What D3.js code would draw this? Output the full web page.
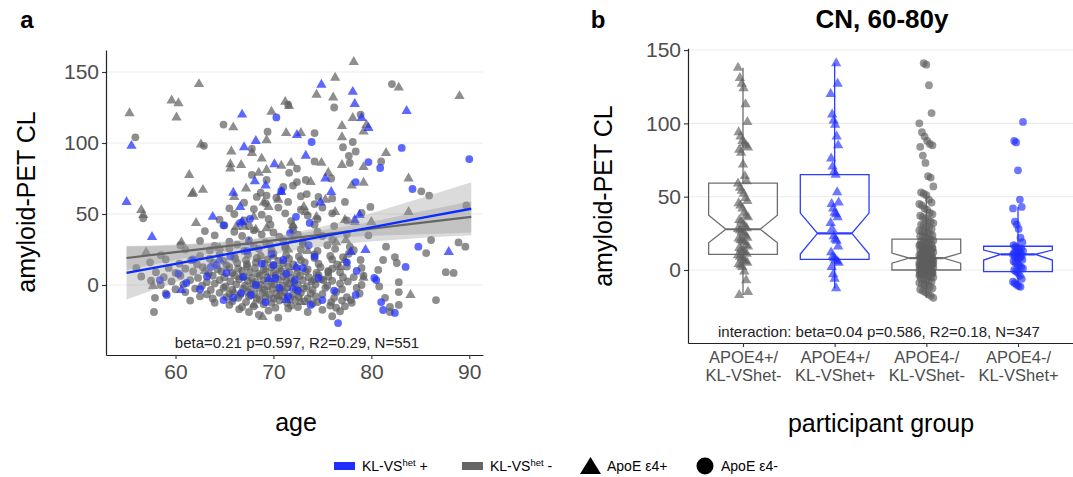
<!DOCTYPE html>
<html><head><meta charset="utf-8">
<script src="https://cdn.jsdelivr.net/npm/d3@7"></script>
<style>body{margin:0;background:#fff;} svg{display:block;font-family:"Liberation Sans",Arial,sans-serif;}</style>
</head><body><svg id="c" width="1073" height="477"></svg>
<script>
// ---------------- DATA: panel a (age, amyloid-PET CL) ----------------
const yTicks = [0, 50, 100, 150];
const xTicksA = [60, 70, 80, 90];

// KL-VShet- / ApoE e4+  (grey triangles)
const greyTriA = [[55.3,121],[62.4,141.5],[59.6,130],[60.3,128],[60.1,118],[78.2,157],[76.3,146],[74.4,134],[76.1,132],[82.8,139],[89.0,133],[71.2,129],[71.6,126],[69.8,122],[65.9,111],[77.0,112],[78.1,117.6],[79.5,112.7],[79.2,108],[62.6,99],[71.3,107],[72.8,107],[77.0,104],[65.7,94],[67.8,93],[81.5,93],[69.3,102],[65.6,85],[66.7,84.5],[65.6,82],[68.8,89],[70.8,84],[71.8,86],[74.9,86],[77.0,84.5],[79.2,83],[61.4,77.5],[68.5,79],[69.3,81],[73.8,72.5],[75.6,79],[83.8,75],[62.8,67],[61.8,65],[67.2,68],[79.2,72],
[56.5,52.8],[56.7,49.3],[61.7,64],[62.1,43.7],[60.6,30],[57.0,23],[57.7,-0.7],[66.2,41],[67,41],[68.2,39],[69.3,40],[72.0,42],[73.1,55],[73.3,51.4],[74.4,48],[75.3,60],[76.3,51.4],[77.3,45.8],[78.3,44.4],[78.0,70],[80.0,44.4],[83.8,51.4],[84.0,-7],[68.0,-14],[68.9,-22.5],[66.6,5.6],[76.8,12.7],[77.3,17.6],[79.2,5],[72.8,-12],[74.1,3.5],[76.4,30],[77.4,31.7],[69.5,55],[70.5,60],[66,62],[64.5,26],[70,20],[71.5,25],[63,10],[66,-5],[70.5,-8],[72,32],[73.5,24],[68,48],[69,58]];

// KL-VShet+ / ApoE e4+  (blue triangles)
const blueTriA = [[55.5,98],[66.8,120],[74.9,141],[78.1,136],[78.3,127.5],[83.6,122.5],[79.0,117.6],[79.7,110.6],[68.2,101.4],[67.0,97],[72.4,105.6],[73.3,91],[70.1,85],[68.1,73],[69.2,70],[75.3,75],[75.9,65.5],[65.9,65],[70.8,65.5],[55.0,58.5],[57.6,33.8],[63.8,48],[66.6,55],[66.8,44.4],[78.3,45.8],[78.8,49.3],[77.9,23.2],[79.4,24.6],[87.9,23.2],[60.6,-3.5],[71.3,-10.6],[72.3,12.7],[67.5,30],[74.8,58],[64.5,18],[69.5,4],[72,-2]];

// KL-VShet- / ApoE e4-  (grey circles)
const greyCircA = [[55.9,104],[64.9,113],[76.2,125],[82.1,141.5],[71.5,127],[78.9,120],[69.4,108],[74.2,107],[62.9,98],[78.1,100.7],[77.1,97],[78.4,94],[77.7,91],[67.8,96],[74.2,87],[77.8,86],[81.0,87],[72.4,82],[71.6,79],[67.8,77.5],[69.3,74],[72.4,72.5],[72.0,70],[73.3,74],[75.9,75],[71.0,69],[68.7,65],[69.3,63],[73.4,64],[74.6,62],[85.1,66],[85.9,63],[56.7,47],
[89.7,56],[89.6,27],[88.9,30],[88.4,8.5],[87.6,9],[86.6,-10.6],[86.1,31.7],[85.6,22.5],[82.8,-14],[81.9,-15.5],[81.9,-19],[81.4,-9],[81.5,27],[81.2,17.6],[80.7,10.6],[82.8,-5],[82.8,2],[82.4,19.7],[82.6,15.5],[79.9,55],[79.7,35],[79.0,50.7],[78.9,17.6],[79.0,12],[78.2,5.6],[78.5,-2],[77.9,-10.6],[77.1,19.7],[75.6,9],[75.1,3.5],[75.9,-12],[76.4,-16],[57.9,-9],[57.8,-19],[56.0,12],[57.4,16],
[68.5,-21],[70.5,-23],[76,-22],[66.5,-17],[67.5,-19],[69.5,-18],[71.5,-16.5],[73.5,-19],[75,-17.5],[76.8,-18.5],
[65.5,-14],[66.8,-15.5],[68,-15],[69,-13.5],[70.2,-16],[71.8,-14.5],[72.5,-15.5],[74,-13],[75.8,-14.5],[77.3,-15],
[61.5,-11],[64,-12.5],[65.8,-11.5],[67.2,-12],[68.6,-10.5],[69.8,-12.5],[70.6,-11],[71.4,-12.5],[72.2,-10.5],[73.2,-11.5],[74.5,-12],[77,-11],[78,-12.5],
[62.5,-8],[63.8,-9.5],[65.2,-8.5],[66.4,-9],[67.5,-8],[68.3,-9.5],[69.2,-8.5],[70,-9.5],[70.9,-8],[71.7,-9],[72.6,-8.5],[73.5,-9.5],[74.3,-8],[76.2,-9],[77.5,-8.5],
[59,-6],[61,-5],[63.2,-6.5],[64.5,-5.5],[65.5,-6],[66.6,-7],[67.4,-5],[68.1,-6.5],[68.9,-5.5],[69.6,-7],[70.3,-6],[71.1,-5],[72,-6.5],[72.8,-5.5],[73.8,-6],[75,-6.5],[76.4,-5],[78.8,-6],
[60,-3],[62,-2.5],[63.6,-3.5],[64.9,-2],[65.8,-3.5],[66.9,-2.5],[67.7,-3],[68.5,-2],[69.1,-3.5],[69.9,-2.5],[70.7,-3.5],[71.4,-2],[72.3,-3],[73.1,-2.5],[74,-3.5],[75.3,-2],[77,-3],
[58.5,0],[60.8,0.5],[62.7,-0.5],[64,1],[65.1,-1],[66.2,0.5],[67.1,-0.5],[67.9,1],[68.7,0],[69.4,-1],[70.1,0.5],[70.9,-0.5],[71.6,1],[72.5,0],[73.4,-1],[74.3,0.5],[75.5,-0.5],[76.8,1],[79,0],[80.8,-1],
[57.5,3],[59.6,2.5],[61.5,3.5],[63.2,2],[64.5,3.5],[65.6,2.5],[66.5,4],[67.4,3],[68.2,2],[69,3.5],[69.8,2.5],[70.5,4],[71.3,3],[72.1,2],[73,3.5],[73.9,2.5],[74.9,4],[76,3],[77.6,2.5],
[56.5,6],[58.8,5.5],[60.5,6.5],[62.3,5],[63.8,6.5],[65,5.5],[66,7],[67,6],[67.8,5],[68.6,6.5],[69.4,5.5],[70.2,7],[71,6],[71.8,5],[72.7,6.5],[73.6,5.5],[74.6,7],[75.6,6],[77.1,5.5],[79.2,6.5],
[58,9],[60,8.5],[61.8,9.5],[63.4,8],[64.7,9.5],[65.8,8.5],[66.8,10],[67.6,9],[68.4,8],[69.2,9.5],[70,8.5],[70.8,10],[71.6,9],[72.4,8],[73.3,9.5],[74.4,8.5],[75.6,10],[76.8,9],
[59.3,12],[61,11.5],[62.8,12.5],[64.3,11],[65.5,12.5],[66.4,11.5],[67.3,13],[68.1,12],[69,11],[69.8,12.5],[70.6,11.5],[71.5,13],[72.4,12],[73.5,11],[74.8,12.5],[76,11.5],[77.5,13],
[60.4,15],[62.2,14.5],[63.9,15.5],[65.2,14],[66.3,15.5],[67.3,14.5],[68.2,16],[69.1,15],[70,14],[71,15.5],[72,14.5],[73.2,16],[74.6,15],[76.5,14.5],
[59,18],[61.6,17.5],[63.5,18.5],[64.9,17],[66.1,18.5],[67.2,17.5],[68.3,19],[69.4,18],[70.5,17],[71.6,18.5],[72.8,17.5],[74.2,19],[76,18],
[58.5,21],[62.5,20.5],[64.5,21.5],[66,20],[67.4,21.5],[68.7,20.5],[70,22],[71.3,21],[72.6,20],[74.2,21.5],[75.8,20.5],[77.7,22],
[61,25],[63.5,24.5],[65.5,25.5],[67,24],[68.5,25.5],[69.8,24.5],[71.2,26],[72.8,25],[74.5,24],[76.3,25.5],[78.2,24.5],
[60.5,28],[64,27.5],[66.3,28.5],[68,27],[69.6,28.5],[71.2,27.5],[73,29],[75.5,28],[77.8,27],
[62.5,31],[65.5,30.5],[67.5,31.5],[69.2,30],[71,31.5],[73,30.5],[76,32],
[64,35],[66.8,34.5],[68.8,35.5],[70.6,34],[72.5,35.5],[75,34.5],[77.5,36],
[63,38],[66,37.5],[68,38.5],[70,37],[72,38.5],[74.5,37.5],
[65,42],[67.5,41.5],[69.7,42.5],[72,41],[74.2,42.5],[76.2,41.5],
[64.5,46],[67,45.5],[69.5,46.5],[71.8,45],[74.5,46.5],[77.5,45.5],
[66,50],[68.8,49.5],[71.2,50.5],[73.5,49],[76,50.5],
[65.5,54],[68,53.5],[70.5,54.5],[72.8,53],[75,54.5],
[67,58],[69.2,57.5],[71.5,58.5],[74.2,57],[77.3,58.5],
[68.3,62],[70.3,61.5],[72.8,62.5],[76,61]];

// KL-VShet+ / ApoE e4-  (blue circles)
const blueCircA = [[70.3,118],[73.9,100.7],[83.1,96.5],[90.0,88.7],[79.7,86.6],[80.9,82.4],[78.4,72.5],[70.8,66.2],[84.2,67.6],[59.1,-7],[64.9,42],[66.6,43.7],[67.6,46.5],[72.3,48],[73.7,43.7],[84.8,27],[83.5,12.7],[80.3,5],[80.5,3.5],[81.0,-12],[81.2,-17.6],[82.4,-19.7],[76.6,-26.8],[78.5,9.9],[78.4,-7],[75.0,-10.6],[74.6,5],[64.9,-10.6],[65.9,-9],[66.7,-5.6],[61.1,1.4],[58.4,3.5],[64.2,14],[66.9,5.6],[63.6,12.7],[65.2,8.5],[61.8,18],[62.5,-3],[67.7,-7],[68.2,0],[70,14],[71,17.6],[71.7,36.6],[72.2,3.5],[72.5,-4],[69.2,-12],[70.6,-2],[71.3,8],[73,12],[74.2,20],[76.2,-4],[68.8,15],[69.8,22],[67.3,24],[73.6,28],[71.5,-8],[70.2,5],[65.6,20],[60.3,8],[77.5,16],[73.8,-14],[63.2,6]];

// linear fits with 95% CI
const fitAges   = [55, 60, 65, 70, 75, 80, 85, 90.2];
const fitBlue   = [8.5, 14.9, 21.4, 27.8, 34.2, 40.6, 47.1, 53.7];
const fitBlueLo = [-10.2, 1.9, 12.9, 21.5, 27.2, 30.6, 33.1, 35];
const fitBlueHi = [27.2, 27.9, 29.9, 34.1, 41.2, 50.6, 61.1, 72.4];
const fitGrey   = [19, 23.1, 27.2, 31.4, 35.5, 39.6, 43.7, 48];
const fitGreyLo = [10.5, 17.6, 23.7, 28.6, 32.3, 34.6, 35.7, 37];
const fitGreyHi = [27.5, 28.6, 30.7, 34.2, 38.7, 44.6, 51.7, 59];

// ---------------- DATA: panel b ----------------
const groupsB = ["APOE4+/\nKL-VShet-", "APOE4+/\nKL-VShet+", "APOE4-/\nKL-VShet-", "APOE4-/\nKL-VShet+"];
const g1B = [138,131,127,124,113,101,94,91,88,86.5,85,83.5,82,80,72,64,60.5,59,56,54,52,49,47,45.5,44,42,39,37,36,34,33,31,30,28.5,28,27,26,25,23.5,22,21.5,20.5,20,19,17,16,15,14,13,12,11,10,9,8,7,6,5,4,3,2,-1,-7,-15,-17];
const g2B = [141,127,120,106,102,99,91,85,76,70.5,67,65,53,46,45,42,39,38,36,32,28,23,21,20,16,12,9,8,7,6,5,2,-3,-6,-12.5];
const g3B = [141,140,126,107,100,94,91,88,86,85,84,78,73,64,63,57,53,52,51,48,46,45,44,42,41,39,38,37,36,35,34,33,32,31,30.5,29.6,29,28,27,26.4,25.7,25,24.3,23.8,23,22.4,21.8,21.2,20.6,20.1,19.5,19,18.4,17.9,17.3,16.8,16.2,15.8,15.3,14.9,14.4,14,13.6,13.2,12.8,12.5,12.1,11.8,11.4,11.1,10.8,10.4,10.1,9.8,9.5,9.2,8.9,8.6,8.3,8,7.7,7.4,7.1,6.8,6.5,6.2,5.9,5.6,5.3,5,4.7,4.4,4.1,3.8,3.5,3.2,2.9,2.6,2.3,2,1.7,1.4,1.1,0.8,0.5,0.2,-0.1,-0.5,-0.9,-1.3,-1.7,-2.1,-2.5,-3,-3.5,-4,-4.5,-5,-5.6,-6.2,-6.8,-7.4,-8,-8.7,-9.4,-10.1,-10.8,-11.6,-12.4,-13.3,-14.2,-15.2,-16.3,-17.5,-19,
9.7,8.1,6.6,5.2,4.3,3.1,2.4,1.2,0.3,-0.7,-1.9,-2.8,10.9,12.6,7.3,6.1,4.8,3.4,1.8,0.6,-1.5,-2.3,-3.8,8.8,9.9,11.5,13.9,15.1,17.2,5.5,4.5,2.8,7.9];
const g4B = [101,88,87,68,48,43,42,33,31,28,22,19,17,16,15,14,14.5,13,12,12.5,11,11.5,10,10.5,9,9.5,8,8.5,7,6,5,4,3,2,1,0,-1,-2,-4,-6,-8,-9,-10,-11,-11.5];
const pointsB = [g1B, g2B, g3B, g4B];
// boxplot statistics: q1, median, q3, notch low/high, whisker low/high
const boxQ1   = [10.6, 7.3, 0, -1.1];
const boxMed  = [27.8, 25, 8.1, 10.7];
const boxQ3   = [59.2, 65, 21, 16.2];
const notchLo = [18.6, 10.9, 4.6, 6.8];
const notchHi = [37.3, 38.8, 11.5, 13.6];
const whiskLo = [-17, -12.5, -19, -11.5];
const whiskHi = [138, 141, 52, 43];

// ---------------- drawing ----------------
const svg = d3.select('#c');
const BLUE = '#1f2eff', GREY = '#5e5e5e';
const BLUE_BOX = '#2a3dff', GREY_BOX = '#6e6e6e';

// panel a scales
const xA = d3.scaleLinear().domain([52.9, 91.4]).range([106, 483]);
const yA = d3.scaleLinear().domain([-49.3, 165.5]).range([355, 50]);

// panel b scales
const xB = d3.scalePoint().domain(groupsB).range([688, 1073]).padding(0.6);
const yB = d3.scaleLinear().domain([-49.8, 151.2]).range([343, 48.3]);

function grid(sc, x1, x2) {
  svg.append('g').selectAll('line').data(yTicks).join('line')
    .attr('x1', x1).attr('x2', x2).attr('y1', d => sc(d)).attr('y2', d => sc(d))
    .attr('stroke', '#ebebeb').attr('stroke-width', 1.1);
}
grid(yA, 106, 483);
grid(yB, 688, 1073);

const triSym = d3.symbol().type(d3.symbolTriangle).size(46);
function drawPts(g, data, shape, color, xf, yf, op) {
  if (shape === 'circle') {
    g.selectAll(null).data(data).join('circle')
      .attr('cx', xf).attr('cy', yf).attr('r', 3.9)
      .attr('fill', color).attr('fill-opacity', op);
  } else {
    g.selectAll(null).data(data).join('path').attr('d', triSym)
      .attr('transform', (d, i) => `translate(${xf(d, i)},${yf(d, i)})`)
      .attr('fill', color).attr('fill-opacity', op);
  }
}

// ---- panel a points
const pA = svg.append('g');
const ax = d => xA(d[0]), ay = d => yA(d[1]);
drawPts(pA, greyCircA, 'circle', GREY, ax, ay, 0.7);
drawPts(pA, greyTriA, 'tri', GREY, ax, ay, 0.7);
drawPts(pA, blueCircA, 'circle', BLUE, ax, ay, 0.72);
drawPts(pA, blueTriA, 'tri', BLUE, ax, ay, 0.72);

// ---- panel a confidence bands + fits
const idx = d3.range(fitAges.length);
const band = (lo, hi) => d3.area().x(i => xA(fitAges[i])).y0(i => yA(lo[i])).y1(i => yA(hi[i])).curve(d3.curveMonotoneX)(idx);
svg.append('path').attr('d', band(fitBlueLo, fitBlueHi)).attr('fill', '#999').attr('fill-opacity', 0.35);
svg.append('path').attr('d', band(fitGreyLo, fitGreyHi)).attr('fill', '#999').attr('fill-opacity', 0.35);
const fline = v => d3.line().x(i => xA(fitAges[i])).y(i => yA(v[i]))(idx);
svg.append('path').attr('d', fline(fitGrey)).attr('fill', 'none').attr('stroke', '#666').attr('stroke-width', 2.2);
svg.append('path').attr('d', fline(fitBlue)).attr('fill', 'none').attr('stroke', '#0b2bff').attr('stroke-width', 2.4);

// ---- axes
function styleAxis(g, fs) {
  g.select('.domain').attr('stroke', '#222').attr('stroke-width', 1.2);
  g.selectAll('.tick line').attr('stroke', '#333').attr('stroke-width', 1.1);
  g.selectAll('.tick text').attr('fill', '#4d4d4d').attr('font-size', fs).attr('font-family', '"Liberation Sans", Arial, sans-serif');
}
const axLA = svg.append('g').attr('transform', 'translate(106,0)')
  .call(d3.axisLeft(yA).tickValues(yTicks).tickSize(4).tickPadding(3).tickSizeOuter(0));
styleAxis(axLA, 21);
const axBA = svg.append('g').attr('transform', 'translate(0,355)')
  .call(d3.axisBottom(xA).tickValues(xTicksA).tickSize(4).tickPadding(5).tickSizeOuter(0));
styleAxis(axBA, 21);

// ---- panel b boxes
const step = xB.step();
const hw = step * 0.375, nw = hw * 0.5;
const colB = [GREY_BOX, BLUE_BOX, GREY_BOX, BLUE_BOX];
const gB = svg.append('g');
groupsB.forEach((c, i) => {
  const cx = xB(c);
  const p = d3.path();
  p.moveTo(cx - hw, yB(boxQ3[i])); p.lineTo(cx + hw, yB(boxQ3[i]));
  p.lineTo(cx + hw, yB(notchHi[i])); p.lineTo(cx + nw, yB(boxMed[i]));
  p.lineTo(cx + hw, yB(notchLo[i])); p.lineTo(cx + hw, yB(boxQ1[i]));
  p.lineTo(cx - hw, yB(boxQ1[i])); p.lineTo(cx - hw, yB(notchLo[i]));
  p.lineTo(cx - nw, yB(boxMed[i])); p.lineTo(cx - hw, yB(notchHi[i]));
  p.closePath();
  gB.append('line').attr('x1', cx).attr('x2', cx).attr('y1', yB(boxQ3[i])).attr('y2', yB(whiskHi[i])).attr('stroke', colB[i]).attr('stroke-width', 1.3);
  gB.append('line').attr('x1', cx).attr('x2', cx).attr('y1', yB(boxQ1[i])).attr('y2', yB(whiskLo[i])).attr('stroke', colB[i]).attr('stroke-width', 1.3);
  gB.append('path').attr('d', p.toString()).attr('fill', 'none').attr('stroke', colB[i]).attr('stroke-width', 1.3);
  gB.append('line').attr('x1', cx - nw).attr('x2', cx + nw).attr('y1', yB(boxMed[i])).attr('y2', yB(boxMed[i])).attr('stroke', colB[i]).attr('stroke-width', 2.2);
});

// ---- panel b jittered points
const shapesB = ['tri', 'tri', 'circle', 'circle'];
const colPtB = [GREY, BLUE, GREY, BLUE];
const jitW = [5, 4, 7, 5];
pointsB.forEach((vals, k) => {
  const cx = xB(groupsB[k]);
  const jx = (d, i) => cx + (((i * 37 + k * 11) % 17) / 16 - 0.5) * 2 * jitW[k];
  drawPts(gB, vals, shapesB[k], colPtB[k], jx, d => yB(d), 0.65);
});

const axLB = svg.append('g').attr('transform', 'translate(688,0)')
  .call(d3.axisLeft(yB).tickValues(yTicks).tickSize(4).tickPadding(3).tickSizeOuter(0));
styleAxis(axLB, 21);
const axBB = svg.append('g').attr('transform', 'translate(0,343)')
  .call(d3.axisBottom(xB).tickSize(4).tickSizeOuter(0).tickFormat(''));
styleAxis(axBB, 16);
axBB.selectAll('.tick').each(function (d) {
  const t = d3.select(this).append('text').attr('fill', '#4d4d4d').attr('font-size', 16.5)
    .attr('text-anchor', 'middle').attr('font-family', '"Liberation Sans", Arial, sans-serif');
  d.split('\n').forEach((ln, j) => t.append('tspan').attr('x', 0).attr('y', 20 + j * 18).text(ln));
});

// ---- texts
function txt(x, y, s, o) {
  const t = svg.append('text').attr('x', x).attr('y', y).text(s)
    .attr('font-size', o.fs).attr('fill', o.fill || '#000').attr('text-anchor', o.anchor || 'middle')
    .attr('font-weight', o.fw || 'normal');
  if (o.rot) t.attr('transform', `rotate(-90,${x},${y})`);
  return t;
}
txt(27, 28, 'a', { fs: 24, fw: 'bold' });
txt(598, 28, 'b', { fs: 24, fw: 'bold' });
txt(882, 28, 'CN, 60-80y', { fs: 26, fw: 'bold' });
txt(35, 202, 'amyloid-PET CL', { fs: 25, rot: true });
txt(612, 196, 'amyloid-PET CL', { fs: 25, rot: true });
txt(296, 431, 'age', { fs: 25 });
txt(881, 432, 'participant group', { fs: 25 });
txt(297, 348, 'beta=0.21 p=0.597, R2=0.29, N=551', { fs: 15, fill: '#222' });
txt(879, 337, 'interaction: beta=0.04 p=0.586, R2=0.18, N=347', { fs: 15, fill: '#222' });

// ---- legend
const lg = svg.append('g').attr('font-size', 14);
lg.append('rect').attr('x', 334).attr('y', 462).attr('width', 21).attr('height', 8).attr('fill', BLUE);
let t1 = lg.append('text').attr('x', 362).attr('y', 471);
t1.append('tspan').text('KL-VS');
t1.append('tspan').attr('font-size', 9.5).attr('dy', -5).text('het');
t1.append('tspan').attr('dy', 5).text(' +');
lg.append('rect').attr('x', 462).attr('y', 462).attr('width', 21).attr('height', 8).attr('fill', '#666');
let t2 = lg.append('text').attr('x', 490).attr('y', 471);
t2.append('tspan').text('KL-VS');
t2.append('tspan').attr('font-size', 9.5).attr('dy', -5).text('het');
t2.append('tspan').attr('dy', 5).text(' -');
lg.append('path').attr('d', 'M580,474 L601,474 L590.5,457 Z').attr('fill', '#000');
lg.append('text').attr('x', 607).attr('y', 471).text('ApoE \u03b54+');
lg.append('circle').attr('cx', 705).attr('cy', 466).attr('r', 8.5).attr('fill', '#000');
lg.append('text').attr('x', 721).attr('y', 471).text('ApoE \u03b54-');
</script></body></html>
